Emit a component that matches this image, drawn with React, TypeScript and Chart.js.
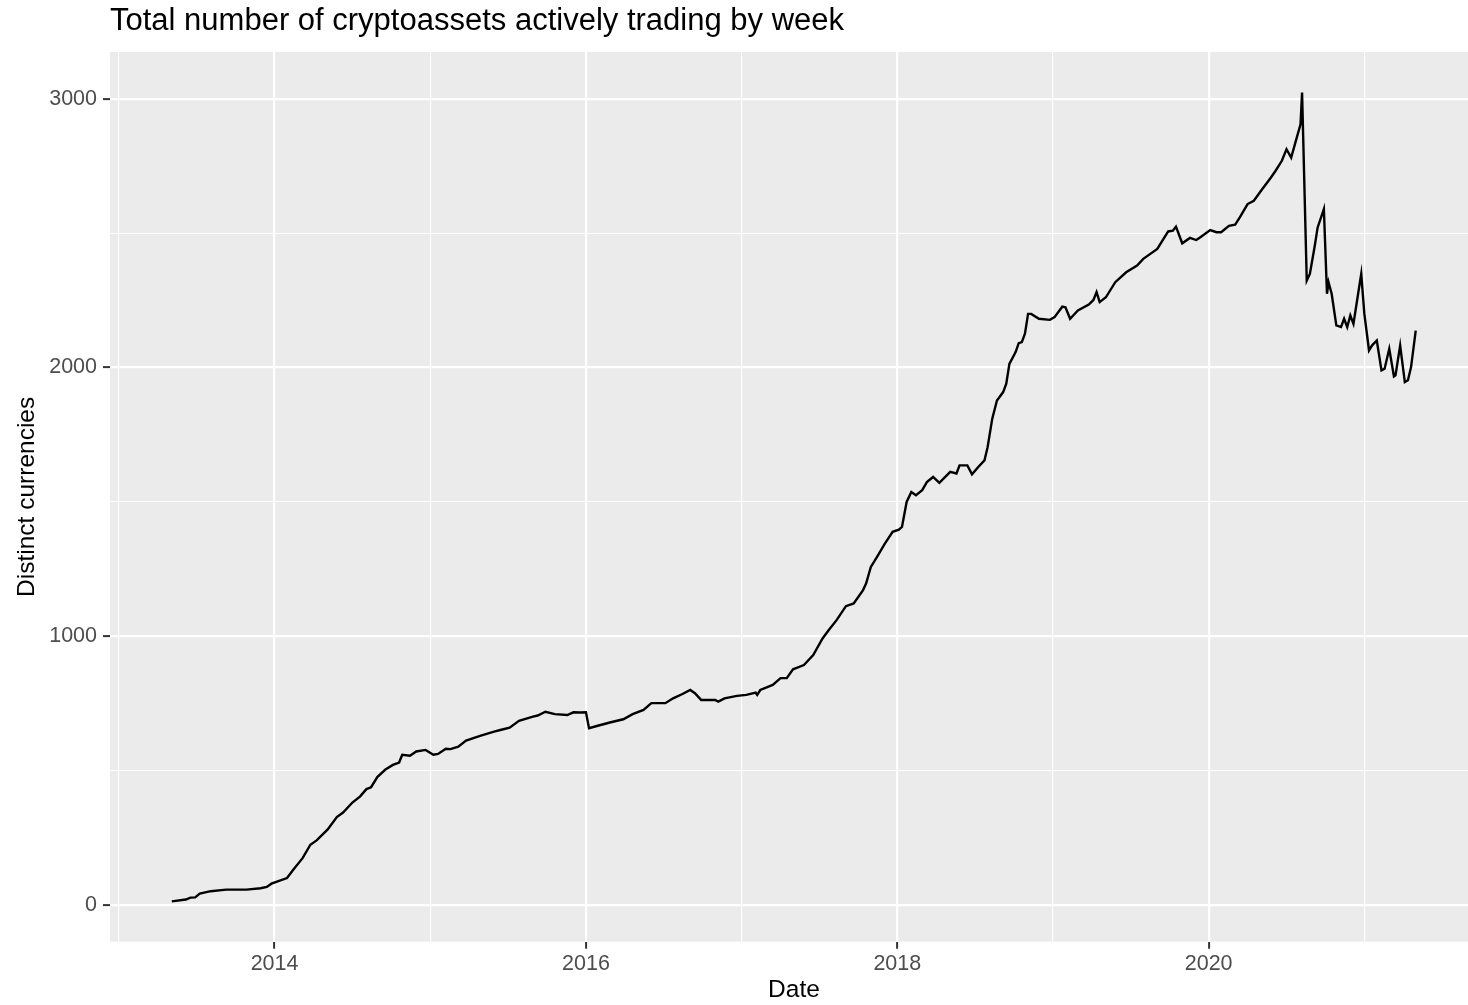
import React, { useEffect, useRef } from "react";
import { Chart, registerables } from "chart.js";

Chart.register(...registerables);

// ---- data (decimal year, number of distinct currencies) ----
const weekYears: number[] = [
  2013.34, 2013.43, 2013.46, 2013.49, 2013.52, 2013.59, 2013.69, 2013.82, 2013.91, 2013.95,
  2013.98, 2014.02, 2014.08, 2014.12, 2014.18, 2014.23, 2014.27, 2014.34, 2014.40, 2014.44,
  2014.50, 2014.55, 2014.59, 2014.62, 2014.66, 2014.71, 2014.76, 2014.80, 2014.82, 2014.87,
  2014.91, 2014.97, 2015.02, 2015.05, 2015.10, 2015.13, 2015.18,
  2015.23, 2015.32, 2015.41, 2015.45, 2015.51, 2015.57, 2015.66, 2015.69, 2015.74, 2015.80,
  2015.88, 2015.92, 2015.96, 2016.00, 2016.02, 2016.07, 2016.16, 2016.24, 2016.30, 2016.37,
  2016.42, 2016.51, 2016.56, 2016.62, 2016.67, 2016.70, 2016.74, 2016.83, 2016.85, 2016.89,
  2016.97, 2017.03, 2017.09, 2017.10, 2017.12, 2017.20, 2017.25, 2017.29, 2017.33, 2017.40,
  2017.46, 2017.52, 2017.56, 2017.61, 2017.67, 2017.72, 2017.78, 2017.80, 2017.83, 2017.87,
  2017.92, 2017.97, 2018.01,
  2018.03, 2018.06, 2018.09, 2018.12, 2018.16, 2018.19, 2018.23, 2018.27, 2018.34, 2018.38,
  2018.40, 2018.45, 2018.48, 2018.52, 2018.56, 2018.58, 2018.61, 2018.64, 2018.68, 2018.70,
  2018.72, 2018.76, 2018.78,
  2018.80, 2018.82, 2018.84, 2018.86, 2018.91, 2018.98, 2019.01, 2019.06, 2019.08, 2019.11,
  2019.16, 2019.23, 2019.26, 2019.28, 2019.30, 2019.34, 2019.40, 2019.47, 2019.54, 2019.58,
  2019.67, 2019.74, 2019.77, 2019.79, 2019.83, 2019.88, 2019.92, 2019.94, 2020.01, 2020.05,
  2020.08, 2020.13, 2020.17, 2020.20, 2020.25, 2020.29, 2020.34,
  2020.40, 2020.43, 2020.47, 2020.50, 2020.53, 2020.56, 2020.59, 2020.60, 2020.63, 2020.65,
  2020.68, 2020.70, 2020.74, 2020.76, 2020.77, 2020.79, 2020.82, 2020.85, 2020.87, 2020.89,
  2020.91, 2020.93, 2020.96, 2020.98, 2021.00, 2021.03, 2021.05, 2021.08, 2021.11, 2021.13,
  2021.16, 2021.19, 2021.20, 2021.23, 2021.26, 2021.28, 2021.30, 2021.33,
];

const currencyCounts: number[] = [
  12, 19, 26, 27, 41, 50, 56, 56, 61, 66,
  78, 87, 99, 130, 173, 223, 239, 279, 326, 343,
  380, 403, 430, 437, 475, 502, 520, 529, 558, 554,
  570, 576, 558, 561, 580, 579, 588,
  611, 628, 644, 650, 659, 684, 700, 704, 718, 709,
  706, 716, 715, 716, 657, 665, 679, 690, 709, 725,
  750, 750, 768, 784, 799, 787, 762, 762, 756, 768,
  777, 781, 789, 781, 799, 818, 843, 843, 876, 892,
  929, 991, 1022, 1059, 1111, 1121, 1171, 1196, 1257, 1295,
  1344, 1388, 1396,
  1406, 1499, 1536, 1524, 1543, 1573, 1592, 1570, 1611, 1605,
  1635, 1635, 1602, 1629, 1654, 1703, 1809, 1877, 1908, 1939,
  2013, 2057, 2090,
  2094, 2125, 2199, 2199, 2181, 2177, 2187, 2226, 2224, 2181,
  2212, 2234, 2251, 2280, 2243, 2261, 2317, 2354, 2379, 2404,
  2441, 2506, 2509, 2524, 2462, 2482, 2474, 2482, 2511, 2503,
  2503, 2527, 2531, 2558, 2608, 2620, 2660,
  2707, 2732, 2769, 2812, 2781, 2843, 2905, 3023, 2323, 2348,
  2447, 2521, 2589, 2274, 2317, 2274, 2156, 2150, 2181, 2150,
  2193, 2162, 2274, 2348, 2199, 2063, 2082, 2100, 1989, 1995,
  2069, 1966, 1970, 2081, 1945, 1952, 2001, 2137,
];

const xBreakYears: number[] = [2013, 2014, 2015, 2016, 2017, 2018, 2019, 2020, 2021];
const xLabelYears: number[] = [2014, 2016, 2018, 2020];
const yBreaks: number[] = [0, 500, 1000, 1500, 2000, 2500, 3000];
const yLabels: number[] = [0, 1000, 2000, 3000];

const chartTitle = "Total number of cryptoassets actively trading by week";
const xAxisTitle = "Date";
const yAxisTitle = "Distinct currencies";

const FONT = "'Liberation Sans', Arial, Helvetica, sans-serif";

// The original figure is slightly wider than the visible page and is cropped on the right.
const FIG_W = 1478;
const FIG_H = 1005;

const panelBackground = {
  id: "panelBackground",
  beforeDraw(chart: any) {
    const { ctx, chartArea } = chart;
    if (!chartArea) return;
    ctx.save();
    ctx.fillStyle = "#EBEBEB";
    ctx.fillRect(chartArea.left, chartArea.top, chartArea.right - chartArea.left, chartArea.bottom - chartArea.top);
    ctx.restore();
  },
};

export default function App() {
  const canvasRef = useRef<HTMLCanvasElement | null>(null);

  useEffect(() => {
    const canvas = canvasRef.current;
    if (!canvas) return;
    Chart.defaults.font.family = FONT;

    const chart = new Chart(canvas, {
      type: "line",
      data: {
        datasets: [
          {
            label: "count",
            data: weekYears.map((x, i) => ({ x, y: currencyCounts[i] })),
            borderColor: "#000000",
            borderWidth: 2.4,
            pointRadius: 0,
            fill: false,
            tension: 0,
          },
        ],
      },
      options: {
        animation: false,
        responsive: false,
        devicePixelRatio: 1,
        layout: { padding: 0 },
        plugins: {
          legend: { display: false },
          tooltip: { enabled: false },
          title: {
            display: true,
            text: chartTitle,
            align: "start",
            fullSize: false,
            color: "#000000",
            font: { family: FONT, size: 31, weight: "normal" },
            padding: { top: 2.4, bottom: 12.4 },
          },
        },
        scales: {
          x: {
            type: "linear",
            min: 2012.943,
            max: 2021.73,
            afterBuildTicks: (s: any) => {
              s.ticks = xBreakYears.map((v) => ({ value: v }));
            },
            afterFit: (s: any) => {
              s.height = 63.3;
            },
            ticks: {
              autoSkip: false,
              maxRotation: 0,
              minRotation: 0,
              padding: 2,
              color: "#4D4D4D",
              font: { family: FONT, size: 21.5 },
              callback: (v: any) => (xLabelYears.includes(Number(v)) ? String(v) : ""),
            },
            grid: {
              color: "#FFFFFF",
              lineWidth: (ctx: any) => (ctx.tick && xLabelYears.includes(ctx.tick.value) ? 2.2 : 1.1),
              tickColor: (ctx: any) => (ctx.tick && xLabelYears.includes(ctx.tick.value) ? "#333333" : "rgba(0,0,0,0)"),
              tickWidth: 2,
              tickLength: 7,
            },
            border: { display: false },
            title: {
              display: true,
              text: xAxisTitle,
              color: "#000000",
              font: { family: FONT, size: 24.5 },
              padding: { top: 0, bottom: 0 },
            },
          },
          y: {
            type: "linear",
            min: -138,
            max: 3174,
            afterBuildTicks: (s: any) => {
              s.ticks = yBreaks.map((v) => ({ value: v }));
            },
            afterFit: (s: any) => {
              s.width = 110;
            },
            ticks: {
              autoSkip: false,
              padding: 6,
              color: "#4D4D4D",
              font: { family: FONT, size: 21.5 },
              callback: (v: any) => (yLabels.includes(Number(v)) ? String(v) : ""),
            },
            grid: {
              color: "#FFFFFF",
              lineWidth: (ctx: any) => (ctx.tick && yLabels.includes(ctx.tick.value) ? 2.2 : 1.1),
              tickColor: (ctx: any) => (ctx.tick && yLabels.includes(ctx.tick.value) ? "#333333" : "rgba(0,0,0,0)"),
              tickWidth: 2,
              tickLength: 7,
            },
            border: { display: false },
            title: {
              display: true,
              text: yAxisTitle,
              color: "#000000",
              font: { family: FONT, size: 24.5 },
              padding: { top: 13, bottom: 0 },
            },
          },
        },
      },
      plugins: [panelBackground],
    } as any);

    return () => chart.destroy();
  }, []);

  return (
    <div
      style={{
        position: "absolute",
        left: 0,
        top: 0,
        width: 1468,
        height: 1005,
        overflow: "hidden",
        background: "#FFFFFF",
      }}
    >
      <canvas
        ref={canvasRef}
        width={FIG_W}
        height={FIG_H}
        style={{ display: "block", width: FIG_W, height: FIG_H }}
      />
    </div>
  );
}
